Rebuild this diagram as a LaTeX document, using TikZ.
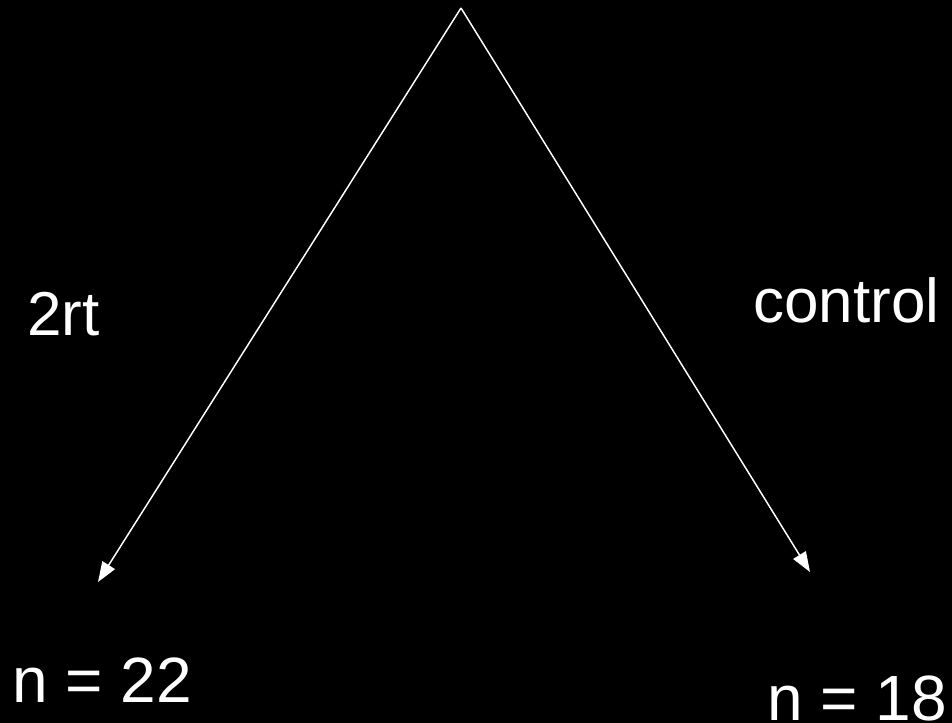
\documentclass[tikz,border=0pt]{standalone}
\usepackage{fontspec}
\setmainfont{Liberation Sans}
\usetikzlibrary{arrows.meta,positioning}

\begin{document}
\begin{tikzpicture}[x=0.75pt, y=-0.75pt,
  lbl/.style={text=white,inner sep=0pt,anchor=base west,font=\fontsize{46.5}{56}\selectfont},
  cnt/.style={lbl,font=\fontsize{48}{58}\selectfont},
  link/.style={-{Triangle[length=15pt,width=11pt]},white,line width=1.1pt}]
 % background
 \fill[black] (0,0) rectangle (952,723);
 \useasboundingbox (0,0) rectangle (952,723);
 % split point and ends
 \coordinate (top) at (461,8);
 \coordinate (tipL) at (98,582);
 \coordinate (tipR) at (810,572);
 \draw[link] (top) -- (tipL);
 \draw[link] (top) -- (tipR);
 % groups
 \node[lbl] (rt) at (27,335) {2rt};
 \node[lbl] (ctl) at (753,323) {control};
 \node[cnt] (nL) at (12,702) {n = 22};
 \node[cnt] (nR) at (767,720) {n = 18};
\end{tikzpicture}
\end{document}
